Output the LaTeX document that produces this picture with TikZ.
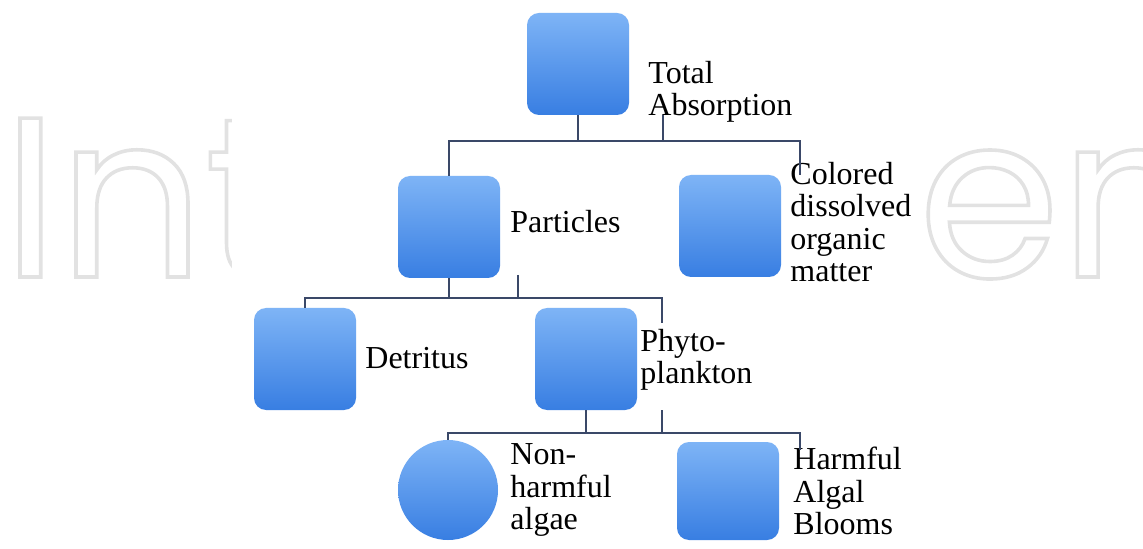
\documentclass[tikz,border=0pt]{standalone}
\usepackage{fontspec}
\setmainfont{Liberation Serif}
\newfontfamily\wmfont{Poppins}
\usetikzlibrary{positioning}
\definecolor{boxtop}{RGB}{126, 180, 246}
\definecolor{boxbottom}{RGB}{56, 126, 226}
\definecolor{linkcol}{RGB}{58, 72, 104}
\definecolor{wmgray}{RGB}{226, 226, 226}

\begin{document}
\begin{tikzpicture}[x=0.5pt, y=-0.5pt,
    box/.style={rounded corners=6pt, top color=boxtop, bottom color=boxbottom, minimum width=51pt, minimum height=51pt, inner sep=0pt},
    ball/.style={circle, top color=boxtop, bottom color=boxbottom, minimum size=50pt, inner sep=0pt},
    lbl/.style={anchor=west, align=left, inner sep=0pt, font=\fontsize{16}{16.2}\selectfont},
    link/.style={draw=linkcol, line width=1.1pt},
    wm/.style={anchor=base west, inner sep=0pt, text=wmgray, font=\wmfont\fontsize{114}{114}\selectfont}]
    \useasboundingbox (0,0) rectangle (1143,549);

    % watermark behind the chart
    \node[wm] (wmleft) at (2,277) {\special{pdf:literal direct 1 Tr 1.8 w}Int\special{pdf:literal direct 0 Tr}};
    \node[wm] (wmright) at (918,277) {\special{pdf:literal direct 1 Tr 1.8 w}en\special{pdf:literal direct 0 Tr}};
    \fill[white] (232,0) rectangle (925,549);

    % boxes
    \node[box] (total) at (578,64) {};
    \node[box] (partic) at (449,227) {};
    \node[box] (cdom) at (730,226) {};
    \node[box] (detr) at (305,359) {};
    \node[box] (phyto) at (586,359) {};
    \node[ball] (nonharm) at (448,490) {};
    \node[box, minimum height=49pt] (harm) at (728,491) {};

    % labels
    \node[lbl] (totallbl) at (648,92) {Total\\Absorption};
    \node[lbl] (particlbl) at (510,222) {Particles};
    \node[lbl] (cdomlbl) at (790,222) {Colored\\dissolved\\organic\\matter};
    \node[lbl] (detrlbl) at (365,358) {Detritus};
    \node[lbl] (phytolbl) at (640,360) {Phyto-\\plankton};
    \node[lbl] (nonharmlbl) at (510,490) {Non-\\harmful\\algae};
    \node[lbl] (harmlbl) at (793,491) {Harmful\\Algal\\Blooms};

    % connectors
    \coordinate (bus1) at (578,141);
    \coordinate (tick1) at (663,115);
    \coordinate (cdomend) at (800,175);
    \coordinate (bus2) at (449,298);
    \coordinate (tick2) at (518,275);
    \coordinate (phytoend) at (662,323);
    \coordinate (bus3) at (586,433);
    \coordinate (tick3) at (662,410);
    \coordinate (harmend) at (800,450);

    \draw[link] (total.south) -- (total.south |- bus1);
    \draw[link] (tick1) -- (tick1 |- bus1);
    \draw[link] (partic.north) -- (partic.north |- bus1) -| (cdomend);

    \draw[link] (partic.south) -- (partic.south |- bus2);
    \draw[link] (tick2) -- (tick2 |- bus2);
    \draw[link] (detr.north) -- (detr.north |- bus2) -| (phytoend);

    \draw[link] (phyto.south) -- (phyto.south |- bus3);
    \draw[link] (tick3) -- (tick3 |- bus3);
    \draw[link] (nonharm.north) -- (nonharm.north |- bus3) -| (harmend);
\end{tikzpicture}
\end{document}
